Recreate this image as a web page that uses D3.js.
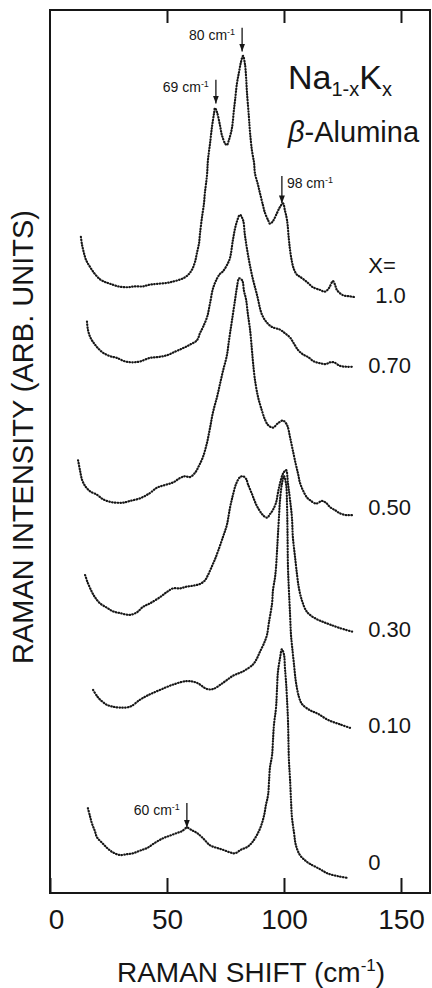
<!DOCTYPE html>
<html lang="en">
<head>
<meta charset="UTF-8">
<title>Raman spectra - Na1-xKx beta-alumina</title>
<style>
  body { margin: 0; background: #fff; }
  svg text { font-family: "Liberation Sans", Arial, sans-serif; fill: #161616; }
</style>
<script src="https://d3js.org/d3.v7.min.js"></script>
</head>
<body>
<script>

// composition x for each trace, top to bottom
var composition = ["1.0", "0.70", "0.50", "0.30", "0.10", "0"];

// Raman shift (cm-1) and intensity (arb. units, offsets included)
var shift100 = [13.2,13.7,14.5,15.4,17.1,19.2,21.4,23.5,25.6,29.1,32.9,36.3,39.7,42.7,46.2,50.0,53.4,56.8,59.0,60.7,
  62.0,62.8,63.7,64.1,65.0,65.8,66.2,67.1,67.5,68.4,69.2,70.1,70.5,71.4,72.6,73.5,74.8,75.6,76.5,77.8,
  78.6,79.1,79.9,80.8,81.6,82.5,83.3,83.8,84.2,85.0,85.5,86.3,87.2,87.6,88.9,89.7,91.0,91.9,93.2,94.0,
  95.3,97.0,98.3,99.6,100.4,101.3,102.1,102.6,103.4,104.3,105.6,106.8,109.8,112.4,115.4,117.5,119.2,120.9,121.8,122.6,
  125.2,127.4,129.9];
var int100 = [74.3,73.4,72.5,71.7,70.9,70.1,69.5,69.2,69.0,68.7,68.6,68.7,68.7,68.9,69.0,69.1,69.3,69.6,70.0,70.6,
  71.5,72.5,73.6,74.7,76.6,78.1,79.3,81.3,83.0,84.9,86.7,88.3,88.9,88.4,87.0,85.8,84.9,84.7,85.3,86.7,
  88.7,89.8,91.7,93.0,94.1,94.8,93.9,92.4,90.6,87.9,86.1,84.1,82.7,81.5,80.2,79.3,77.9,77.0,76.2,75.8,
  76.1,77.0,77.7,78.1,77.3,76.2,74.0,72.8,71.5,70.6,70.0,69.8,69.2,68.6,68.3,68.1,68.5,69.3,68.9,68.3,
  67.7,67.6,67.5];

var shift070 = [15.8,16.2,17.1,18.4,20.5,22.6,25.6,28.6,32.1,35.5,38.5,42.7,46.2,50.0,53.4,56.8,59.8,62.8,64.1,65.4,
  67.1,68.4,69.7,71.4,72.6,73.9,75.6,76.9,78.2,79.5,81.2,82.5,83.3,84.6,86.3,88.5,90.6,92.7,94.9,98.3,
  100.4,102.6,104.3,106.0,108.1,110.3,112.8,115.4,117.9,119.7,121.4,123.9,126.5,129.5];
var int070 = [64.7,63.8,63.0,62.4,61.7,61.2,60.8,60.6,60.2,60.1,60.2,60.6,60.7,60.9,61.3,61.7,62.1,62.6,63.4,64.1,
  65.2,66.8,68.5,69.6,70.1,70.4,71.1,71.9,74.0,75.7,76.8,76.2,74.5,72.3,70.0,67.7,65.5,64.6,64.1,63.8,
  63.4,62.9,62.2,61.5,61.0,60.7,60.2,60.0,59.9,60.1,60.1,59.7,59.6,59.6];

var shift050 = [12.0,12.8,13.7,15.0,17.1,20.1,22.6,25.6,28.6,31.2,34.2,38.5,42.7,45.7,49.1,52.6,55.6,57.7,59.8,62.0,
  63.7,65.4,67.1,68.4,69.7,71.4,72.6,73.9,75.6,76.5,77.8,79.1,79.9,80.8,82.1,82.9,83.8,84.6,85.5,86.3,
  86.8,87.6,88.9,90.6,91.9,93.2,95.3,97.4,99.6,101.3,102.6,103.8,105.1,106.0,106.8,108.1,109.8,111.1,113.7,116.2,
  117.9,119.7,122.2,123.9,126.5,129.1];
var int050 = [49.0,47.9,46.8,46.1,45.5,45.1,44.6,44.3,44.2,44.2,44.4,44.7,45.3,45.9,46.2,46.5,47.0,47.2,47.1,47.6,
  48.4,49.4,51.0,52.7,54.5,56.2,57.6,59.1,60.9,62.6,64.9,67.2,68.6,69.6,69.4,68.2,67.2,65.5,63.8,61.5,
  60.0,58.1,56.2,54.6,53.6,53.0,52.7,53.2,53.5,53.0,51.6,50.1,48.5,47.5,46.5,45.6,44.8,44.5,44.1,44.4,
  44.2,43.7,43.3,43.0,42.8,42.8];

var shift030 = [15.0,16.2,17.9,19.2,21.4,24.4,26.9,29.9,34.2,37.2,39.7,42.7,47.0,50.0,52.6,55.6,58.5,61.1,64.1,66.2,
  67.5,69.2,70.5,71.8,73.9,75.6,76.9,78.2,79.5,81.2,82.5,83.8,84.6,86.3,87.6,88.9,91.0,92.7,94.0,95.3,
  96.6,97.4,98.3,99.6,100.9,101.7,102.6,103.4,103.8,104.7,105.6,106.4,107.7,109.4,111.1,114.1,116.7,119.7,123.9,129.1];
var int030 = [36.0,35.1,34.1,33.5,32.8,32.3,31.9,31.7,31.5,31.8,32.4,32.8,33.5,34.1,34.5,34.5,34.7,34.8,35.0,35.4,
  36.0,37.0,37.8,38.7,40.3,41.7,43.6,45.1,46.3,47.1,47.2,46.9,46.3,45.2,44.3,43.6,42.8,42.5,42.9,43.4,
  44.2,45.3,46.4,47.5,47.9,46.4,44.5,42.5,40.3,38.1,36.0,34.5,33.1,32.0,31.5,31.0,30.7,30.4,30.0,29.6];

var shift010 = [18.4,20.1,21.4,24.4,26.9,29.9,34.2,38.5,41.9,47.0,52.6,58.5,62.8,67.1,69.7,73.9,78.2,82.5,86.8,88.5,
  89.7,91.5,92.7,93.6,94.9,95.3,96.2,96.6,97.0,97.4,97.9,98.3,99.1,100.0,100.9,101.3,101.5,101.7,102.1,102.6,
  103.0,103.4,104.3,105.1,106.4,107.7,111.1,114.5,118.8,123.9,128.2];
var int010 = [23.0,22.3,21.9,21.3,21.1,21.0,21.1,21.9,22.4,23.0,23.6,24.0,23.8,23.1,23.1,23.8,24.6,25.1,25.9,26.6,
  27.3,28.3,29.2,30.7,32.8,34.3,35.8,36.9,38.6,40.5,42.8,44.5,46.3,47.2,46.3,43.9,40.9,36.9,34.3,31.5,
  29.2,28.1,25.8,23.9,22.2,21.4,20.7,20.3,19.6,19.1,18.7];

var shift000 = [16.2,17.1,17.9,19.2,20.1,22.2,24.4,26.9,29.9,32.9,35.5,38.5,41.5,44.9,48.3,51.3,54.3,56.4,58.5,60.7,
  62.8,65.4,68.4,71.4,73.9,76.9,79.1,81.6,84.2,86.3,88.5,90.2,91.5,92.3,93.2,93.6,94.0,94.9,95.3,95.7,
  96.6,97.0,97.4,98.3,99.1,100.0,100.4,100.9,101.3,101.7,101.9,102.1,102.6,103.0,103.4,104.3,105.1,106.8,109.0,111.1,
  115.4,118.8,123.1,127.4];
var int000 = [9.6,8.7,7.9,7.0,6.3,5.7,5.1,4.6,4.3,4.4,4.5,4.8,5.1,5.7,6.2,6.5,6.8,7.0,7.4,7.1,
  6.8,6.2,5.4,5.1,4.9,4.6,4.5,4.9,5.2,5.7,6.6,7.6,8.8,10.0,11.1,12.6,14.2,15.6,17.3,19.0,
  21.0,23.0,25.0,26.6,27.6,27.0,25.5,23.8,21.9,19.6,17.3,15.1,12.8,10.5,8.6,6.8,5.4,4.3,3.7,3.3,
  2.7,2.2,1.9,1.7];

var xTicks = [0, 50, 100, 150];

// peak markers: label, position of arrow (cm-1), arrow top / tip (intensity)
var peakLabels = ["80", "69", "98", "60"];
var peakShift = [82.1, 70.9, 99.1, 58.5];
var peakTop = [98.0, 92.1, 81.2, 10.2];
var peakTip = [95.3, 89.4, 78.1, 7.4];

var series = [
  d3.zip(shift100, int100), d3.zip(shift070, int070), d3.zip(shift050, int050),
  d3.zip(shift030, int030), d3.zip(shift010, int010), d3.zip(shift000, int000)
];

var width = 432, height = 988;
var plotLeft = 50, plotRight = 430, plotTop = 10, plotBottom = 893;

var x = d3.scaleLinear().domain([0, 162.4]).range([plotLeft, plotRight]);
var y = d3.scaleLinear().domain([0, 100]).range([plotBottom, plotTop]);

var svg = d3.select("body").append("svg")
  .attr("width", width)
  .attr("height", height);

svg.append("defs").append("marker")
  .attr("id", "head")
  .attr("viewBox", "0 0 6 8")
  .attr("refX", 3).attr("refY", 8)
  .attr("markerWidth", 6).attr("markerHeight", 8)
  .attr("markerUnits", "userSpaceOnUse")
  .attr("orient", "0")
  .append("path")
  .attr("d", "M0,0 L3,8 L6,0 Z")
  .attr("fill", "#161616");

// frame
svg.append("rect")
  .attr("x", plotLeft).attr("y", plotTop)
  .attr("width", plotRight - plotLeft).attr("height", plotBottom - plotTop)
  .attr("fill", "none").attr("stroke", "#161616").attr("stroke-width", 2);

var xAxis = d3.axisBottom(x).tickValues(xTicks).tickSize(-15).tickSizeOuter(0).tickPadding(16);
var gx = svg.append("g").attr("transform", "translate(0," + plotBottom + ")").call(xAxis);
gx.select(".domain").remove();
gx.selectAll("line").attr("stroke", "#161616").attr("stroke-width", 2);
gx.selectAll("text").attr("font-size", 28).attr("fill", "#161616")
  .style("font-family", "'Liberation Sans', Arial, sans-serif");
gx.selectAll(".tick").filter(function(d) { return d === 0; }).select("text").attr("dx", 6);

var xTop = d3.axisTop(x).tickValues(xTicks.slice(1)).tickSize(-13).tickSizeOuter(0).tickFormat("");
var gt = svg.append("g").attr("transform", "translate(0," + plotTop + ")").call(xTop);
gt.select(".domain").remove();
gt.selectAll("line").attr("stroke", "#161616").attr("stroke-width", 2);

// traces, drawn as dotted spectra
var line = d3.line()
  .x(function(d) { return x(d[0]); })
  .y(function(d) { return y(d[1]); })
  .curve(d3.curveCatmullRom.alpha(0.5));

svg.selectAll("path.trace")
  .data(series)
  .enter()
  .append("path")
  .attr("class", "trace")
  .attr("d", line)
  .attr("fill", "none")
  .attr("stroke", "#161616")
  .attr("stroke-width", 2.2)
  .attr("stroke-linecap", "round")
  .attr("stroke-dasharray", "0.5 2.3");

// composition labels on the right
var labelY = [66.8, 58.9, 42.8, 29.0, 18.1, 2.6];
svg.append("text")
  .attr("x", x(136)).attr("y", y(70.2))
  .attr("font-size", 22)
  .text("X=");
svg.selectAll("text.comp")
  .data(composition)
  .enter()
  .append("text")
  .attr("class", "comp")
  .attr("x", function(d, i) { return i === 0 ? x(139) : x(136); })
  .attr("y", function(d, i) { return y(labelY[i]); })
  .attr("font-size", 22)
  .text(function(d) { return d; });

// peak arrows, label beside the shaft
peakLabels.forEach(function(lab, i) {
  var px = x(peakShift[i]);
  svg.append("line")
    .attr("x1", px).attr("x2", px)
    .attr("y1", y(peakTop[i])).attr("y2", y(peakTip[i]))
    .attr("stroke", "#161616").attr("stroke-width", 1.3)
    .attr("marker-end", "url(#head)");
  var onRight = lab === "98";
  var t = svg.append("text")
    .attr("x", onRight ? px + 5 : px - 7)
    .attr("y", y(peakTop[i]) + 12)
    .attr("text-anchor", onRight ? "start" : "end")
    .attr("font-size", 14);
  t.append("tspan").text(lab + " cm");
  t.append("tspan").attr("font-size", 9).attr("dy", -5).text("-1");
});

// title
var title = svg.append("text").attr("x", 288).attr("y", y(91.1)).attr("font-size", 34);
title.append("tspan").text("Na");
title.append("tspan").attr("font-size", 20).attr("dy", 7).text("1-x");
title.append("tspan").attr("dy", -7).text("K");
title.append("tspan").attr("font-size", 20).attr("dy", 7).text("x");

var sub = svg.append("text").attr("x", 288).attr("y", y(85.1)).attr("font-size", 29);
sub.append("tspan").attr("font-style", "italic").text("β");
sub.append("tspan").text("-Alumina");

// axis titles
var xt = svg.append("text")
  .attr("x", 251).attr("y", 982)
  .attr("text-anchor", "middle")
  .attr("font-size", 28);
xt.append("tspan").text("RAMAN SHIFT (cm");
xt.append("tspan").attr("font-size", 17).attr("dy", -11).text("-1");
xt.append("tspan").attr("dy", 11).text(")");

svg.append("text")
  .attr("transform", "translate(33,437) rotate(-90)")
  .attr("text-anchor", "middle")
  .attr("font-size", 29)
  .text("RAMAN INTENSITY (ARB. UNITS)");

</script>
</body>
</html>
